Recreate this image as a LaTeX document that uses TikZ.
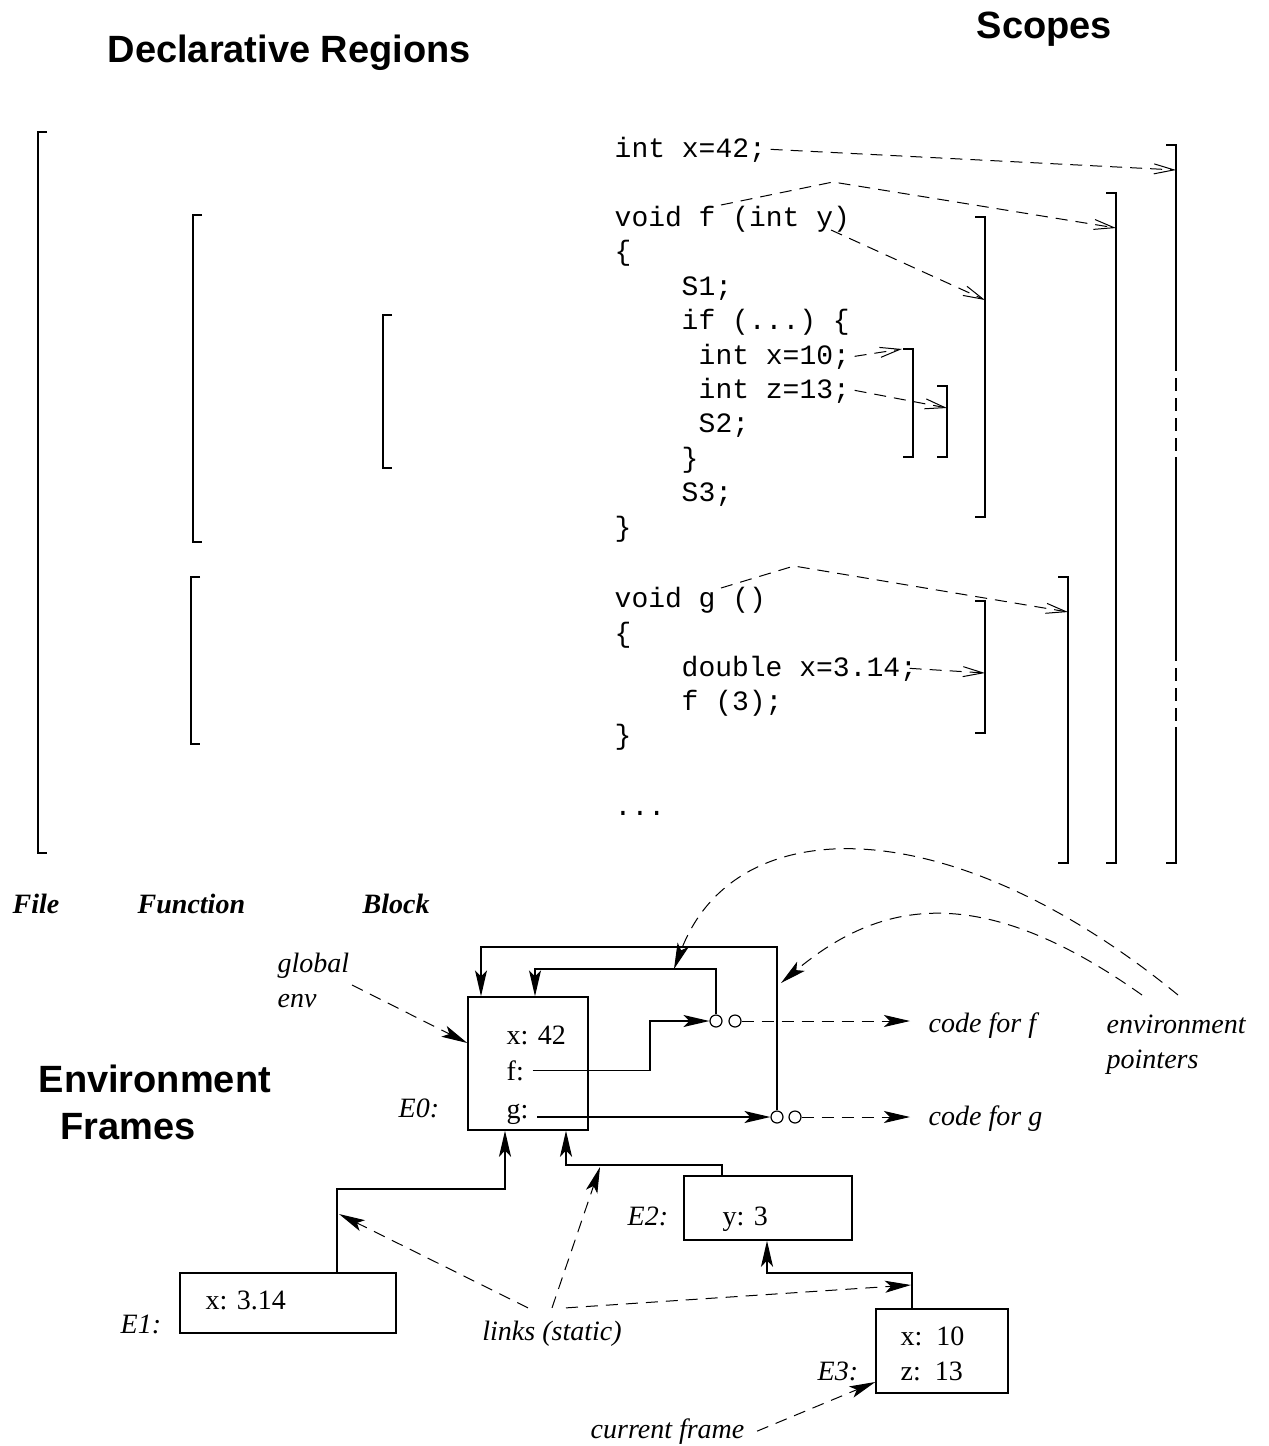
\documentclass[tikz,border=0pt]{standalone}
\usepackage{fontspec}
\setmainfont{Liberation Serif}
\setsansfont{Liberation Sans}
\setmonofont{Liberation Mono}
\usetikzlibrary{arrows.meta}
\tikzset{
  code/.style={font=\ttfamily\fontsize{14}{17}\selectfont, anchor=base west, inner sep=0pt}, % one source line
  txt/.style={font=\fontsize{14}{17.5}\selectfont, anchor=base west, inner sep=0pt}, % frame contents
  lbl/.style={txt, font=\itshape\fontsize{14}{17.5}\selectfont, align=left}, % italic remarks
  kind/.style={txt, font=\bfseries\itshape\fontsize{14}{17}\selectfont}, % kinds of region
  ttl/.style={font=\sffamily\bfseries\fontsize{19}{23.5}\selectfont, align=left, anchor=base west, inner sep=0pt}, % headings
  env/.style={draw, inner sep=0pt}, % an environment frame
  slot/.style={draw, circle, inner sep=0pt, minimum size=6pt, line width=0.6pt}, % halves of a closure
  scopeptr/.style={dash pattern=on 6pt off 4pt, line width=0.5pt, -{Straight Barb[length=10pt,width=5pt]}},
  link/.style={-{Stealth[length=13pt,width=6pt,inset=3pt]}},
  ptr/.style={link, dash pattern=on 6pt off 4pt, line width=0.5pt},
}

\begin{document}
\begin{tikzpicture}[x=0.5pt, y=-0.5pt, line width=0.7pt]
  \useasboundingbox (0,0) rectangle (1269,1446);

  % headings (a multi-line node sits on its last line)
  \node[ttl] (hdecl) at (107,62) {Declarative Regions};
  \node[ttl] (hscope) at (976,38) {Scopes};
  \node[ttl] (henv) at (38,1139) {Environment\\\hspace*{11pt}Frames};

  % the program
  \node[code] (lx)    at (614,157) {int x=42;};
  \node[code] (lf)    at (614,226) {void f (int y)};
  \node[code] (lfo)   at (614,260) {\{};
  \node[code] (ls1)   at (681,295) {S1;};
  \node[code] (lif)   at (681,329) {if (...) \{};
  \node[code] (lx10)  at (698,364) {int x=10;};
  \node[code] (lz13)  at (698,398) {int z=13;};
  \node[code] (ls2)   at (698,432) {S2;};
  \node[code] (lifc)  at (681,467) {\}};
  \node[code] (ls3)   at (681,501) {S3;};
  \node[code] (lfc)   at (614,536) {\}};
  \node[code] (lg)    at (614,607) {void g ()};
  \node[code] (lgo)   at (614,642) {\{};
  \node[code] (ldx)   at (681,676) {double x=3.14;};
  \node[code] (lcall) at (681,710) {f (3);};
  \node[code] (lgc)   at (614,744) {\}};
  \node[code] (ldots) at (614,815) {...};

  % declarative regions
  \foreach \x/\t/\b in {38/132/853, 193/215/542, 383/315/468, 191/577/744}
    \draw (\x+9,\t) -- (\x,\t) -- (\x,\b) -- (\x+9,\b);
  \node[kind] (kfile) at (12,913) {File};
  \node[kind] (kfun) at (137,913) {Function};
  \node[kind] (kblock) at (362,913) {Block};

  % scopes
  \foreach \x/\t/\b in {1116/193/863, 985/217/517, 913/349/457, 947/386/457, 1068/577/863, 985/601/733}
    \draw (\x-10,\t) -- (\x,\t) -- (\x,\b) -- (\x-10,\b);
  \draw (1166,145) -- (1176,145) -- (1176,358);
  \draw[dash pattern=on 6.5pt off 3.5pt] (1176,358) -- (1176,457);
  \draw (1176,457) -- (1176,648);
  \draw[dash pattern=on 6.5pt off 3.5pt] (1176,648) -- (1176,727);
  \draw (1176,727) -- (1176,863) -- (1166,863);

  \coordinate (sx42) at (1176,170);
  \coordinate (sfn) at (1116,228);
  \coordinate (sy) at (985,300);
  \coordinate (sx10) at (902,349);
  \coordinate (sz13) at (947,408);
  \coordinate (sgn) at (1068,612);
  \coordinate (sdx) at (985,673);
  \coordinate (ff) at (721,205);
  \coordinate (fy) at (831,230);
  \coordinate (gg) at (721,588);

  \draw[scopeptr] ([xshift=2pt]lx.east) -- (sx42);
  \draw[scopeptr] (ff) -- (833,182) -- (sfn);
  \draw[scopeptr] (fy) -- (sy);
  \draw[scopeptr] ([xshift=2pt]lx10.east) -- (sx10);
  \draw[scopeptr] ([xshift=2pt]lz13.east) -- (sz13);
  \draw[scopeptr] (gg) -- (794,566) -- (sgn);
  \draw[scopeptr] ([xshift=-4pt]ldx.east) -- (sdx);

  % environment frames
  \node[env, minimum width=60pt, minimum height=66.5pt] (e0) at (528,1063.5) {};
  \node[txt] (tx) at (506,1044) {x: 42};
  \node[txt] (tf) at (506,1080) {f:};
  \node[txt] (tg) at (506,1118) {g:};
  \node[lbl] (le0) at (398,1117) {E0:};

  \node[env, minimum width=108pt, minimum height=30pt] (e1) at (288,1303) {};
  \node[txt] (tx1) at (205,1309) {x: 3.14};
  \node[lbl] (le1) at (120,1333) {E1:};

  \node[env, minimum width=84pt, minimum height=32pt] (e2) at (768,1208) {};
  \node[txt] (ty2) at (722,1225) {y: 3};
  \node[lbl] (le2) at (627,1225) {E2:};

  \node[env, minimum width=66pt, minimum height=42pt] (e3) at (942,1351) {};
  \node[txt] (tx3) at (900,1345) {x:\ \ 10};
  \node[txt] (tz3) at (900,1380) {z:\ \ 13};
  \node[lbl] (le3) at (817,1380) {E3:};

  % closures
  \node[slot] (cf1) at (716,1021) {};
  \node[slot] (cf2) at (735,1021) {};
  \node[slot] (cg1) at (777,1117) {};
  \node[slot] (cg2) at (795,1117) {};

  \draw[link] ([xshift=4pt]tf.east) -| (650,1045) |- (cf1.west);
  \draw[link] ([xshift=4pt]cg1.west -| tg.east) -- (cg1.west);
  \draw[link] (cf1.north) |- (535,969) -- (e0.north -| 535,0);
  \draw[link] (cg1.north) |- (481,947) -- (e0.north -| 481,0);

  \node[lbl] (codef) at (928,1032) {code for f};
  \node[lbl] (codeg) at (928,1125) {code for g};
  \draw[ptr] (cf2.east) -- ([xshift=-9pt]cf2.east -| codef.west);
  \draw[ptr] (cg2.east) -- ([xshift=-9pt]cg2.east -| codeg.west);

  % static links
  \draw[link] (e1.north -| 337,0) |- (505,1189) -- (e0.south -| 505,0);
  \draw[link] (e2.north -| 722,0) |- (566,1165) -- (e0.south -| 566,0);
  \draw[link] (e3.north -| 912,0) |- (767,1273) -- (e2.south -| 767,0);

  % remarks
  \node[lbl] (genv) at (277,1007) {global\\env};
  \coordinate (ge) at (352,985);
  \draw[ptr] (ge) -- (e0.west |- 0,1043);

  \node[lbl] (envp) at (1106,1068) {environment\\pointers};
  \coordinate (ep1) at (1178,995);
  \coordinate (ep2) at (1142,995);
  \coordinate (fenv) at (674,969);
  \coordinate (genvp) at (781,983);
  \draw[ptr] (ep1) .. controls (950,808) and (735,808) .. (fenv);
  \draw[ptr] (ep2) .. controls (980,880) and (880,900) .. (genvp);

  \node[lbl, anchor=base] (links) at (552,1340) {links (static)};
  \coordinate (lk1) at (339,1214);
  \coordinate (lk2) at (600,1167);
  \coordinate (lk3) at (911,1285);
  \draw[ptr] ([xshift=-12pt,yshift=6pt]links.north) -- (lk1);
  \draw[ptr] ([yshift=6pt]links.north) -- (lk2);
  \draw[ptr] ([xshift=7pt,yshift=6pt]links.north) -- (lk3);

  \node[lbl] (cur) at (590,1438) {current frame};
  \draw[ptr] ([xshift=6pt]cur.east) -- (e3.west |- 0,1382);
\end{tikzpicture}
\end{document}
